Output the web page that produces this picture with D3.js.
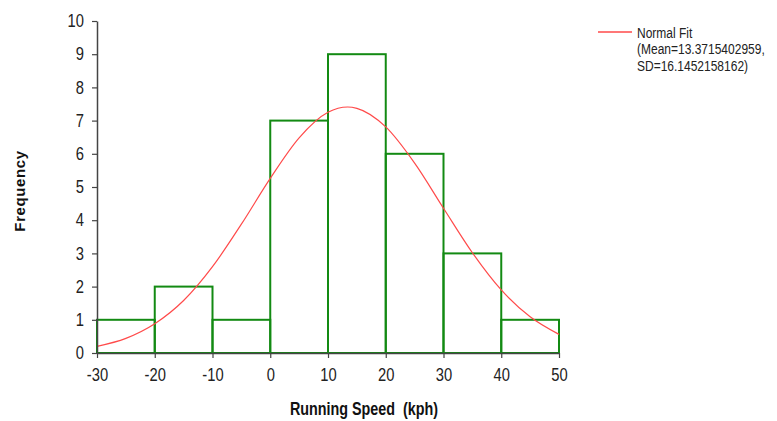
<!DOCTYPE html>
<html>
<head>
<meta charset="utf-8">
<script src="https://cdn.jsdelivr.net/npm/d3@7"></script>
<style>
  html, body { margin: 0; padding: 0; background: #fff; }
  svg { display: block; font-family: "Liberation Sans", Arial, sans-serif; }
</style>
</head>
<body>
<svg id="chart" width="777" height="421"></svg>
<script>
// Histogram bins (kph) and frequencies
const binStarts = [-30, -20, -10, 0, 10, 20, 30, 40];
const binWidth = 10;
const frequencies = [1, 2, 1, 7, 9, 6, 3, 1];

// Normal fit curve
const curveX = [-30, -25, -20, -15, -10, -5, 0, 5, 10, 13.4, 15, 20, 25, 30, 35, 40, 45, 50];
const curveY = [0.20, 0.44, 0.88, 1.58, 2.60, 3.88, 5.26, 6.48, 7.25, 7.41, 7.37, 6.81, 5.72, 4.36, 3.02, 1.90, 1.09, 0.56];

// Ticks
const xTicks = [-30, -20, -10, 0, 10, 20, 30, 40, 50];
const yTicks = [0, 1, 2, 3, 4, 5, 6, 7, 8, 9, 10];

const legendLines = ["Normal Fit", "(Mean=13.3715402959,", "SD=16.1452158162)"];

const FONT = "'Liberation Sans', Arial, sans-serif";
const SX = 0.82; // horizontal squeeze to mimic a narrow font

const svg = d3.select("#chart");
const x = d3.scaleLinear().domain([-30, 50]).range([97, 559]);
const y = d3.scaleLinear().domain([0, 10]).range([353, 21]);

// Bars
const bins = binStarts.map((s, i) => ({ x0: s, x1: s + binWidth, n: frequencies[i] }));
svg.append("g").selectAll("rect").data(bins).join("rect")
  .attr("x", d => x(d.x0))
  .attr("y", d => y(d.n))
  .attr("width", d => x(d.x1) - x(d.x0))
  .attr("height", d => y(0) - y(d.n))
  .attr("fill", "none")
  .attr("stroke", "#138a13")
  .attr("stroke-width", 2);

// Normal curve
const pts = curveX.map((v, i) => [v, curveY[i]]);
svg.append("path")
  .datum(pts)
  .attr("fill", "none")
  .attr("stroke", "#ff4a4a")
  .attr("stroke-width", 1.2)
  .attr("d", d3.line().x(d => x(d[0])).y(d => y(d[1])).curve(d3.curveMonotoneX));

// Axes
const fmt = d => String(d);
const xAxis = svg.append("g").attr("transform", `translate(0,${y(0)})`)
  .call(d3.axisBottom(x).tickValues(xTicks).tickFormat(fmt).tickSize(5).tickPadding(10).tickSizeOuter(0));
const yAxis = svg.append("g").attr("transform", `translate(${x(-30)},0)`)
  .call(d3.axisLeft(y).tickValues(yTicks).tickFormat(fmt).tickSize(5).tickPadding(8).tickSizeOuter(0));
[xAxis, yAxis].forEach(a => {
  a.select(".domain").attr("stroke", "#444").attr("stroke-width", 1.5);
  a.selectAll(".tick line").attr("stroke", "#444").attr("stroke-width", 1.2);
  a.selectAll(".tick text").attr("fill", "#222").attr("font-size", 18)
    .attr("font-family", FONT);
});
// squeeze tick labels horizontally around their anchor
xAxis.selectAll(".tick text").attr("transform", `scale(${SX},1)`);
yAxis.selectAll(".tick text").each(function () {
  const t = d3.select(this);
  const xv = +t.attr("x");
  t.attr("x", xv / SX).attr("transform", `scale(${SX},1)`);
});

// Axis titles
svg.append("text")
  .attr("transform", `translate(364,415) scale(${SX},1)`)
  .attr("text-anchor", "middle")
  .attr("font-family", FONT)
  .attr("font-size", 17.5).attr("font-weight", "bold").attr("fill", "#111")
  .attr("xml:space", "preserve")
  .text("Running Speed  (kph)");
svg.append("text")
  .attr("transform", "translate(25,191) rotate(-90)")
  .attr("text-anchor", "middle")
  .attr("font-family", FONT)
  .attr("font-size", 15).attr("font-weight", "bold").attr("fill", "#111")
  .attr("letter-spacing", 0.6)
  .text("Frequency");

// Legend
const lg = svg.append("g");
lg.append("line").attr("x1", 598).attr("x2", 632).attr("y1", 32).attr("y2", 32)
  .attr("stroke", "#ff4a4a").attr("stroke-width", 1.5);
lg.append("g").attr("transform", "translate(637,0) scale(0.8,1)")
  .selectAll("text").data(legendLines).join("text")
  .attr("x", 0).attr("y", (d, i) => 38 + i * 16.5)
  .attr("font-family", FONT)
  .attr("font-size", 15).attr("fill", "#222")
  .text(d => d);
</script>
</body>
</html>
